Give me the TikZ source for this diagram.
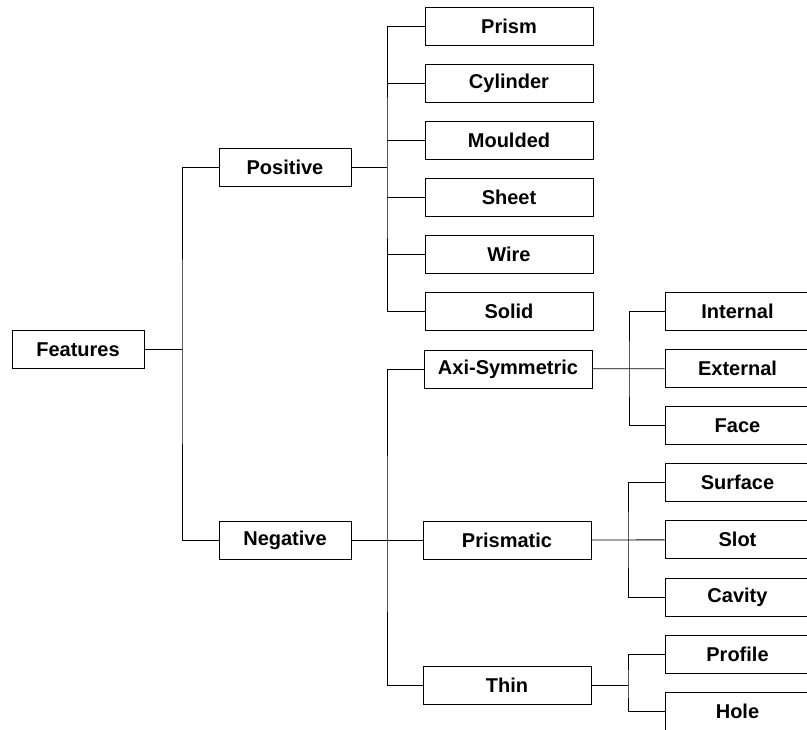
\documentclass[tikz,border=0pt]{standalone}
\usepackage{fontspec}
\setmainfont{Liberation Sans}
\begin{document}
\begin{tikzpicture}[
    x=1pt, y=-1pt,
    line width=0.8pt,
    box/.style={draw, minimum height=38pt, inner sep=0pt,
      font=\fontsize{20}{24}\selectfont\bfseries},
    rootbox/.style={box, minimum width=132pt},
    midbox/.style={box, minimum width=168pt},
    leafbox/.style={box, minimum width=145pt}
  ]
  \useasboundingbox (0,0) rectangle (807,730);
  \clip (0,0) rectangle (807,730);

  % --- First levels ---
  \node[rootbox] (features) at (78,349.5) {Features};
  \node[rootbox] (positive) at (285,167) {Positive};
  \node[rootbox] (negative) at (285,540) {Negative};

  % --- Positive kinds ---
  \foreach \name/\txt [count=\i from 0] in
      {prism/Prism, cylinder/Cylinder, moulded/Moulded,
       sheet/Sheet, wire/Wire, solid/Solid}
    \node[midbox] (\name) at (509,26+57.08*\i) {\txt};

  % --- Negative kinds ---
  \node[midbox] (axi) at (508,369) {Axi-Symmetric};
  \node[midbox] (prismatic) at (507,540) {Prismatic};
  \node[midbox] (thin) at (507,685) {Thin};

  % --- Leaves (cut by the right edge) ---
  \foreach \name/\txt [count=\i from 0] in
      {internal/Internal, external/External, face/Face,
       surface/Surface, slot/Slot, cavity/Cavity,
       profile/Profile, hole/Hole}
    \node[leafbox] (\name) at (737.5,311.5+57.08*\i) {\txt};

  % --- Junctions ---
  \coordinate (fj) at (182,349.5);
  \coordinate (pj) at (387,167);
  \coordinate (nj) at (387,540);
  \coordinate (aj) at (629,369);
  \coordinate (sj) at (628,540);
  \coordinate (tj) at (628,685);

  % --- Connectors ---
  \draw (features) -- (fj);
  \draw (positive.west) -| (fj) |- (negative.west);

  \draw (positive) -- (pj);
  \draw (prism.west) -| (pj) |- (solid.west);
  \foreach \name in {cylinder, moulded, sheet, wire}
    \draw (pj |- \name.west) -- (\name.west);

  \draw (negative) -- (prismatic);
  \draw (axi.west) -| (nj) |- (thin.west);

  \draw (axi) -- (external);
  \draw (internal.west) -| (aj) |- (face.west);

  \draw (prismatic) -- (slot);
  \draw (surface.west) -| (sj) |- (cavity.west);

  \draw (thin) -- (tj);
  \draw (profile.west) -| (tj) |- (hole.west);
\end{tikzpicture}
\end{document}
